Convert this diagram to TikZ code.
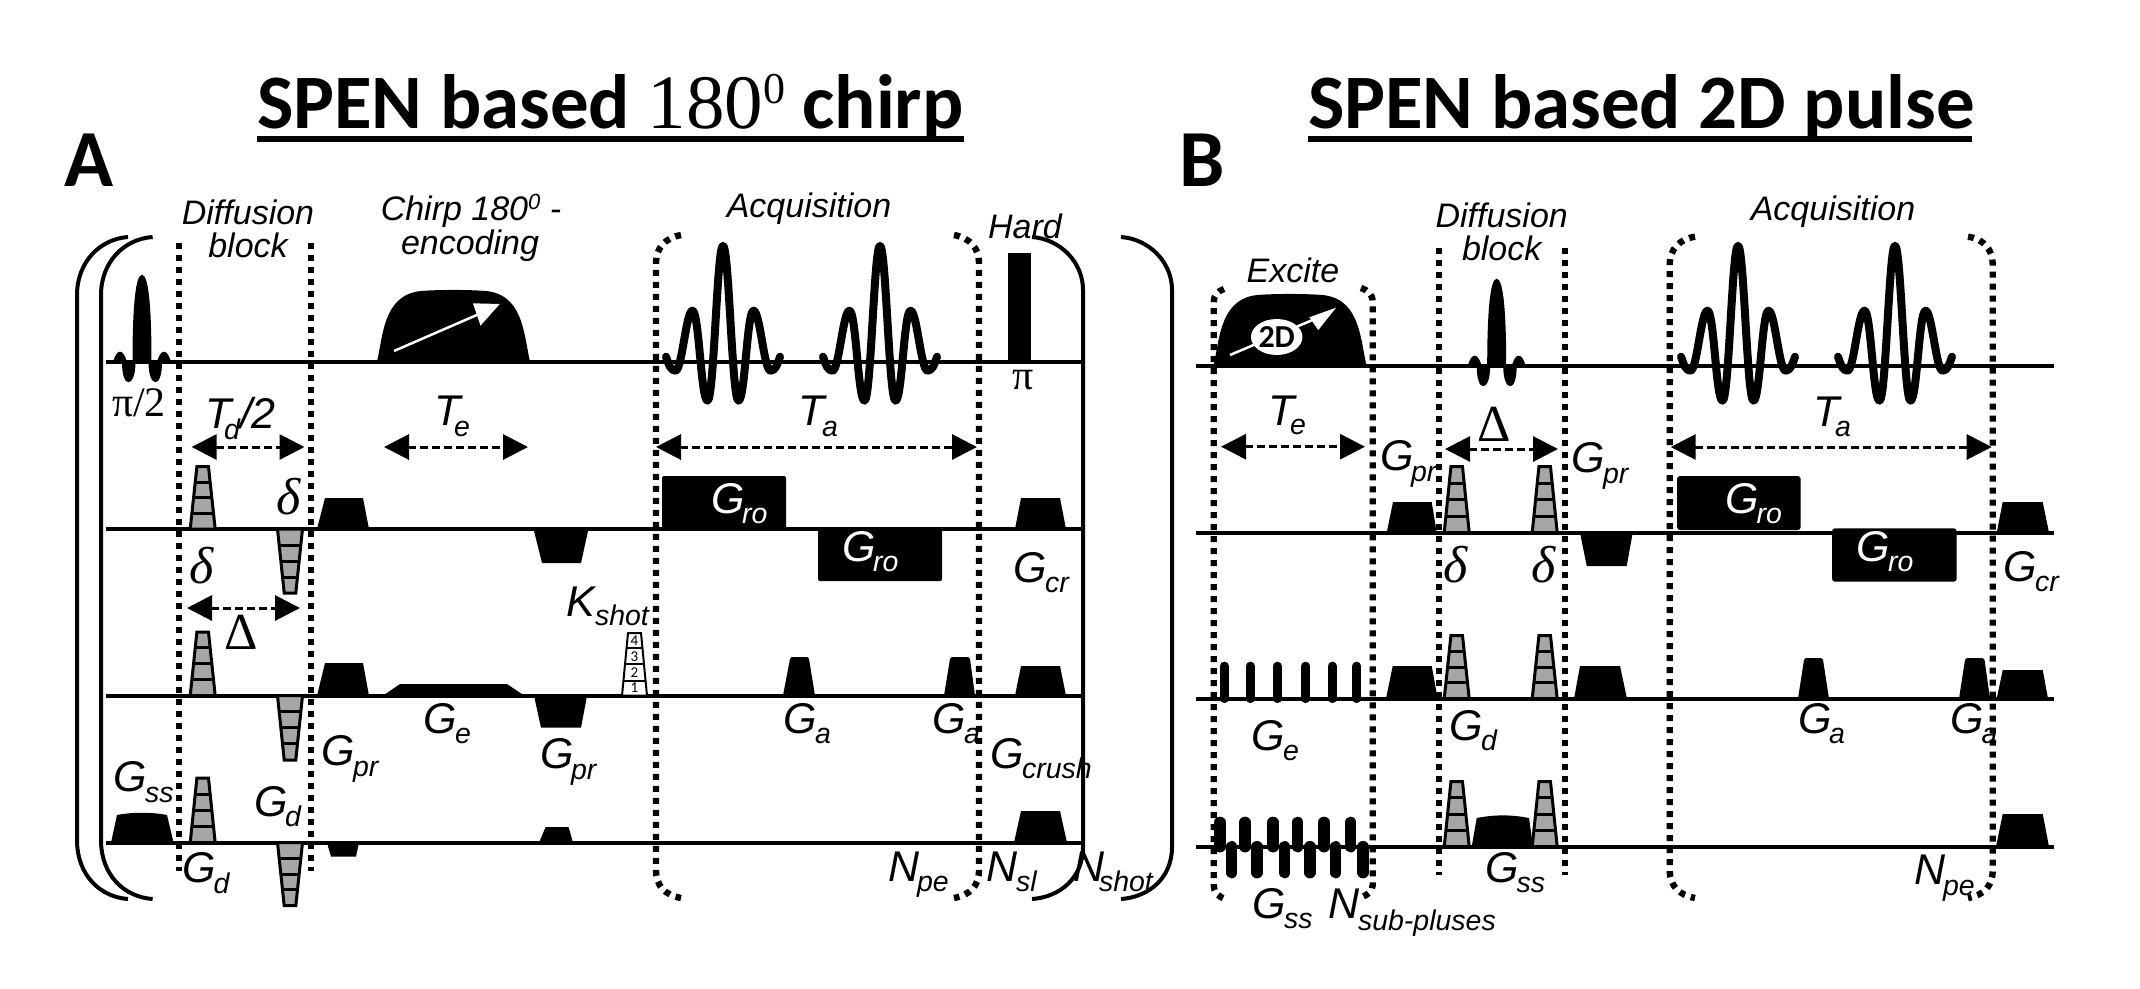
\documentclass[tikz,border=0pt]{standalone}
\usepackage{fontspec}
\setmainfont{Liberation Sans}
\newfontfamily\ttlfont{Carlito}
\newfontfamily\serfont{Liberation Serif}
\usetikzlibrary{arrows.meta,shapes.geometric}
\definecolor{gradgrey}{HTML}{A6A6A6}
\newcounter{lbl}
\tikzset{
  seqline/.style={line width=3.6pt},
  dotline/.style={line width=6.4pt,dash pattern=on 6pt off 6pt},
  bracketline/.style={line width=4pt},
  spanarrow/.style={line width=3pt,dash pattern=on 8pt off 4pt,{Triangle[length=25pt,width=25pt]}-{Triangle[length=25pt,width=25pt]}},
  txt/.style={inner sep=0pt,outer sep=0pt,anchor=base west},
  ctext/.style={inner sep=0pt,outer sep=0pt,anchor=center,font=\itshape\fontsize{34}{36}\selectfont},
  mainlab/.style={txt,font=\itshape\fontsize{43}{46}\selectfont},
  sublab/.style={txt,font=\itshape\fontsize{28.5}{30}\selectfont},
  wave/.style={line width=8pt,line cap=round,line join=round},
  gradblock/.style={draw=black,line width=3pt,fill=gradgrey,line join=miter},
  rung/.style={line width=3pt},
  combtooth/.style={line cap=round},
  serlab/.style={inner sep=0pt,font=\serfont\fontsize{42}{44}\selectfont},
  deltalab/.style={inner sep=0pt,font=\serfont\itshape\fontsize{52}{54}\selectfont},
  Deltalab/.style={inner sep=0pt,font=\serfont\fontsize{52}{54}\selectfont},
  titlelab/.style={txt,font=\ttlfont\bfseries\fontsize{77}{82}\selectfont},
  panellab/.style={txt,font=\ttlfont\bfseries\fontsize{81}{85}\selectfont},
  numlab/.style={inner sep=0pt,font=\ttlfont\fontsize{15}{16}\selectfont},
}
% label: main at (x,y), sub at (sx,sy)
\newcommand{\lab}[7][black]{%
  \stepcounter{lbl}%
  \node[mainlab,text=#1] (m\thelbl) at (#2,#3) {#4};
  \node[sublab,text=#1] (s\thelbl) at (#5,#6) {#7};
}
\newcommand{\trapz}[6]{\fill (#1,#5) -- (#3,#6) -- (#4,#6) -- (#2,#5) -- cycle;}
\newcommand{\roundtrap}[6]{\filldraw[line width=4pt,line join=round] (#1+2,#5) -- (#3+2,#6+2) -- (#4-2,#6+2) -- (#2-2,#5) -- cycle;}
\newcommand{\gblock}[3]{%
  \draw[gradblock] ({#1-12.5},#2) -- ({#1-5.8},#3) -- ({#1+5.8},#3) -- ({#1+12.5},#2) -- cycle;
  \foreach \t in {0.25,0.5,0.75}{%
    \draw[rung] ({#1-12.5+6.7*\t},{#2+\t*(#3-#2)}) -- ({#1+12.5-6.7*\t},{#2+\t*(#3-#2)});}%
}
\newcommand{\sincpulse}[2]{%
  \begin{scope}[shift={(#1,#2)}]
  \fill (-9.5,0) .. controls (-9.5,-50) and (-7,-87) .. (0,-87) .. controls (7,-87) and (9.5,-50) .. (9.5,0) -- cycle;
  \fill (-20,0) .. controls (-20,14) and (-17,20.5) .. (-13.5,20.5) .. controls (-10,20.5) and (-6.5,14) .. (-6.5,0) -- cycle;
  \fill (20,0) .. controls (20,14) and (17,20.5) .. (13.5,20.5) .. controls (10,20.5) and (6.5,14) .. (6.5,0) -- cycle;
  \fill (-29,0) .. controls (-27,-6) and (-25,-10) .. (-22,-10) .. controls (-19,-10) and (-17,-6) .. (-15,0) -- cycle;
  \fill (29,0) .. controls (27,-6) and (25,-10) .. (22,-10) .. controls (19,-10) and (17,-6) .. (15,0) -- cycle;
  \end{scope}}
\newcommand{\chirppulse}[2]{%
  \begin{scope}[shift={(#1,#2)}]
  \fill (-76.5,0) .. controls (-70,-28) and (-70,-70) .. (-28,-71) .. controls (-12,-72) and (12,-72) .. (28,-71) .. controls (70,-70) and (70,-28) .. (76.5,0) -- cycle;
  \end{scope}}
\newcommand{\acqwave}[1]{%
  \begin{scope}[shift={(#1,361.7)}]
  \draw[wave] (-57,-5) .. controls (-54,4) and (-52,9) .. (-47.5,9)
    .. controls (-41,9) and (-37,-51) .. (-30.5,-51)
    .. controls (-24,-51) and (-22,39) .. (-15.5,39)
    .. controls (-9,39) and (-6,-116) .. (0,-116)
    .. controls (6,-116) and (9,39) .. (15.5,39)
    .. controls (22,39) and (24,-51) .. (30.5,-51)
    .. controls (37,-51) and (41,9) .. (47.5,9)
    .. controls (52,9) and (54,4) .. (57,-5);
  \end{scope}}
\begin{document}
\begin{tikzpicture}[x=1pt,y=-1pt]
\useasboundingbox (0,0) rectangle (2140,988);
\fill[white] (0,0) rectangle (2140,988);

% ---------- titles
\node[titlelab] (titleA) at (257,128) {SPEN based {\serfont\mdseries 180\raisebox{25pt}{\fontsize{44}{46}\selectfont 0}} chirp};
\fill (257,136) rectangle (964,142);
\node[titlelab] (titleB) at (1308,128) {SPEN based 2D pulse};
\fill (1308,136) rectangle (1972,142);
\node[panellab] (panelA) at (64,186) {A};
\node[panellab] (panelB) at (1179,186) {B};

% ---------- panel A axes
\foreach \yy in {361.7,529,695.7,842.7}{\draw[seqline] (106,\yy) -- (1083,\yy);}
% brackets
\draw[bracketline] (128,237) .. controls (100,239) and (77,262) .. (77,295) -- (77,840) .. controls (77,875) and (100,897) .. (128,899);
\draw[bracketline] (152.6,237) .. controls (124,239) and (101,262) .. (101,295) -- (101,840) .. controls (101,875) and (124,897) .. (152.6,899);
\draw[bracketline] (1032,237) .. controls (1060,239) and (1083,262) .. (1083,290) -- (1083,847) .. controls (1083,878) and (1060,897) .. (1032,899);
\draw[bracketline] (1121,237) .. controls (1149,239) and (1172,262) .. (1172,290) -- (1172,847) .. controls (1172,878) and (1149,897) .. (1121,899);
% dotted
\draw[dotline] (179,243) -- (179,871);
\draw[dotline] (311,243) -- (311,871);
\draw[dotline] (681,235) .. controls (665,238) and (656,248) .. (656,263) -- (656,870) .. controls (656,886) and (665,895) .. (681,898);
\draw[dotline] (954,235) .. controls (970,238) and (979,248) .. (979,263) -- (979,870) .. controls (979,886) and (970,895) .. (954,898);

% RF A
\sincpulse{142}{361.7}
\chirppulse{453.5}{361.7}
\draw[white,line width=2.5pt] (394,351) -- (486,311);
\fill[white] (473,303.3) -- (499.7,304) -- (480.5,325.7) -- cycle;
\acqwave{723}
\acqwave{880}
\fill (1007.5,252.7) rectangle (1030.7,361.7);

% span arrows A
\draw[spanarrow] (191.6,447) -- (304.5,447);
\draw[spanarrow] (384,447) -- (528,447);
\draw[spanarrow] (656,447) -- (977,447);
\draw[spanarrow] (187,608) -- (300,608);

% gradients A
\gblock{202.7}{529}{466.7}
\gblock{290}{529}{593}
\gblock{202.7}{695.7}{632}
\gblock{290}{695.7}{760}
\gblock{202.7}{842.7}{778}
\gblock{290}{842.7}{905.7}
\trapz{317}{369}{325}{363}{529}{498}
\trapz{534}{588}{542}{581}{531}{563}
\trapz{317}{369}{325}{363}{695.7}{663}
\trapz{383}{524.5}{400}{507}{695.7}{684}
\trapz{534}{587}{541}{581}{695.7}{727.7}
\roundtrap{783}{815}{790}{809}{695.7}{657}
\roundtrap{944}{975}{950}{970}{695.7}{657}
\trapz{1015}{1066}{1021}{1060}{529}{498}
\trapz{1015}{1066}{1021}{1060}{695.7}{666}
\trapz{1014}{1067}{1021}{1060}{842.7}{811}
\fill (111,842.7) -- (117,815) .. controls (132,812) and (152,812) .. (167,815) -- (173.6,842.7) -- cycle;
\trapz{327}{359}{331}{356}{842.7}{856.7}
\trapz{539}{573}{545.6}{568.6}{842.7}{827}
\fill[rounded corners=2pt] (662,476) rectangle (786,529);
\fill[rounded corners=2pt] (818,529) rectangle (942,581);
% K_shot staircase
\draw[fill=white,line width=2pt] (622,695.7) -- (628,633) -- (641,633) -- (647,695.7) -- cycle;
\foreach \yy/\hw in {648/8,664/10,680.7/11.5}{\draw[line width=2pt] (634.5-\hw,\yy) -- (634.5+\hw,\yy);}
\node[numlab] (k4) at (634.5,640.5) {4};
\node[numlab] (k3) at (634.5,656.5) {3};
\node[numlab] (k2) at (634.5,672.5) {2};
\node[numlab] (k1) at (634.5,688) {1};

% ---------- panel B axes
\foreach \yy in {365.7,532.7,698.7,846.7}{\draw[seqline] (1196,\yy) -- (2054,\yy);}
% dotted
\draw[dotline] (1439,248) -- (1439,875);
\draw[dotline] (1565,248) -- (1565,875);
\draw[dotline] (1224,289) .. controls (1218,291) and (1213.7,295) .. (1213.7,302) -- (1213.7,885) .. controls (1213.7,892) and (1218,897) .. (1226,899);
\draw[dotline] (1361,288) .. controls (1367,290) and (1372.7,294) .. (1372.7,302) -- (1372.7,885) .. controls (1372.7,890) and (1368,895) .. (1362,897);
\draw[dotline] (1695,236.7) .. controls (1679,239) and (1669.7,250) .. (1669.7,264) -- (1669.7,870) .. controls (1669.7,886) and (1679,895) .. (1695,898);
\draw[dotline] (1968,236.7) .. controls (1984,239) and (1992.7,250) .. (1992.7,264) -- (1992.7,870) .. controls (1992.7,886) and (1984,895) .. (1968,898);

% RF B
\chirppulse{1290}{365.7}
\draw[white,line width=2.5pt] (1230,355) -- (1322,316);
\fill[white] (1309.3,317.3) -- (1336,307.7) -- (1318.3,330) -- cycle;
\node[ellipse,fill=white,minimum width=43pt,minimum height=36pt,inner sep=0pt,font=\ttlfont\bfseries\fontsize{32}{34}\selectfont] (twoD) at (1276.7,337) {2D};
\sincpulse{1496.7}{365.7}
\acqwave{1738}
\acqwave{1895}

% span arrows B
\draw[spanarrow] (1221,446.7) -- (1365,446.7);
\draw[spanarrow] (1445,449) -- (1558,449);
\draw[spanarrow] (1670.7,447) -- (1991.7,447);

% gradients B
\trapz{1386.7}{1436.7}{1393}{1431.7}{532.7}{502}
\gblock{1456.7}{532.7}{466.7}
\gblock{1544.7}{532.7}{466.7}
\trapz{1580}{1632.7}{1586.7}{1626.7}{532.7}{566}
\fill[rounded corners=3pt] (1677,476) rectangle (1800.7,530);
\fill[rounded corners=3pt] (1832,528.3) rectangle (1956.7,581.7);
\trapz{1996.7}{2049}{2002.7}{2042.7}{532.7}{502}
\foreach \xx in {1224.3,1250.3,1277.3,1305.7,1332.3,1356.7}{\draw[combtooth,line width=8.7pt] (\xx,666) -- (\xx,698.7);}
\trapz{1386}{1437.7}{1392.7}{1431.7}{698.7}{666}
\gblock{1456.7}{698.7}{635.7}
\gblock{1544.7}{698.7}{635.7}
\trapz{1574}{1627}{1580}{1620}{698.7}{666}
\roundtrap{1798}{1829}{1804}{1823}{698.7}{658}
\roundtrap{1959}{1990}{1965}{1984.5}{698.7}{658}
\trapz{1996.7}{2048}{2002.7}{2042.7}{698.7}{670}
\foreach \xx in {1220,1245,1273,1297.7,1324,1350.7}{\draw[combtooth,line width=11.5pt] (\xx,822.4) -- (\xx,846.7);}
\foreach \xx in {1231.7,1257,1284.7,1310,1335.7,1363}{\draw[combtooth,line width=11.5pt] (\xx,846.7) -- (\xx,872.6);}
\fill (1471.7,846.7) -- (1476.7,818) .. controls (1495,814.5) and (1511,814.5) .. (1529,818) -- (1533,846.7) -- cycle;
\gblock{1456.7}{846.7}{781.7}
\gblock{1544.7}{846.7}{781.7}
\trapz{1996}{2049}{2002.7}{2042.7}{846.7}{814}

% ---------- centred texts A
\node[ctext] (dA1) at (248,212) {Diffusion};
\node[ctext] (dA2) at (248,245) {block};
\node[ctext] (cA1) at (471,211) {Chirp 180\raisebox{11pt}{\fontsize{22}{24}\selectfont 0} -};
\node[ctext] (cA2) at (470,246) {encoding};
\node[ctext] (aA) at (809,209) {Acquisition};
\node[ctext] (hA) at (1025,226.7) {Hard};
\node[serlab] (piA) at (139,403) {π/2};
\node[serlab] (piB) at (1023,380) {π};
\node[deltalab] (dl1) at (289,497) {δ};
\node[deltalab] (dl2) at (202,566) {δ};
\node[Deltalab] (DeltaA) at (241,632) {Δ};

% labels A
\lab{205}{428}{T}{224}{439}{d}
\node[mainlab] (slashA) at (240,428) {/2};
\lab{434.6}{425}{T}{454}{436}{e}
\lab{798.5}{425}{T}{822}{436}{a}
\lab[white]{711}{513}{G}{742}{523}{ro}
\lab[white]{842}{561.7}{G}{873}{571.7}{ro}
\lab{1013}{582}{G}{1045}{592}{cr}
\lab{566.7}{616}{K}{595}{625}{shot}
\lab{423}{733}{G}{455}{743}{e}
\lab{783.6}{733}{G}{815}{743}{a}
\lab{932}{733}{G}{964}{743}{a}
\lab{321.7}{765}{G}{353}{776.7}{pr}
\lab{540}{768}{G}{571}{779}{pr}
\lab{990}{768}{G}{1022}{778}{crush}
\lab{113}{791.7}{G}{145}{802}{ss}
\lab{254.7}{816}{G}{285}{826.7}{d}
\lab{182}{882.7}{G}{213.5}{893}{d}
\lab{888}{881.7}{N}{917}{891.7}{pe}
\lab{986}{881.7}{N}{1016}{891.7}{sl}
\lab{1073.6}{881.7}{N}{1099}{891.7}{shot}

% ---------- centred texts B
\node[ctext] (eB) at (1293,270) {Excite};
\node[ctext] (dB1) at (1501.7,215.7) {Diffusion};
\node[ctext] (dB2) at (1501.7,248) {block};
\node[ctext] (aB) at (1833,211.7) {Acquisition};
\node[Deltalab] (DeltaB) at (1494,424) {Δ};
\node[deltalab] (dl3) at (1456,565) {δ};
\node[deltalab] (dl4) at (1543.6,565) {δ};

% labels B
\lab{1268}{425}{T}{1290}{434}{e}
\lab{1813}{426}{T}{1835}{436}{a}
\lab{1380}{470.7}{G}{1411}{481.7}{pr}
\lab{1571.7}{472.7}{G}{1603}{483.7}{pr}
\lab[white]{1725}{513}{G}{1756.5}{523}{ro}
\lab[white]{1856.7}{561.7}{G}{1888}{571.7}{ro}
\lab{2003}{581}{G}{2035}{591.7}{cr}
\lab{1798}{733}{G}{1829}{743}{a}
\lab{1950}{733}{G}{1981.5}{743}{a}
\lab{1251.7}{750}{G}{1283}{760}{e}
\lab{1449.3}{740}{G}{1481}{750}{d}
\lab{1485}{882.7}{G}{1516.5}{892}{ss}
\lab{1252.7}{918.3}{G}{1284}{928.3}{ss}
\lab{1328.3}{918.3}{N}{1358}{930}{sub-pluses}
\lab{1914}{884}{N}{1943}{895}{pe}
\end{tikzpicture}
\end{document}
